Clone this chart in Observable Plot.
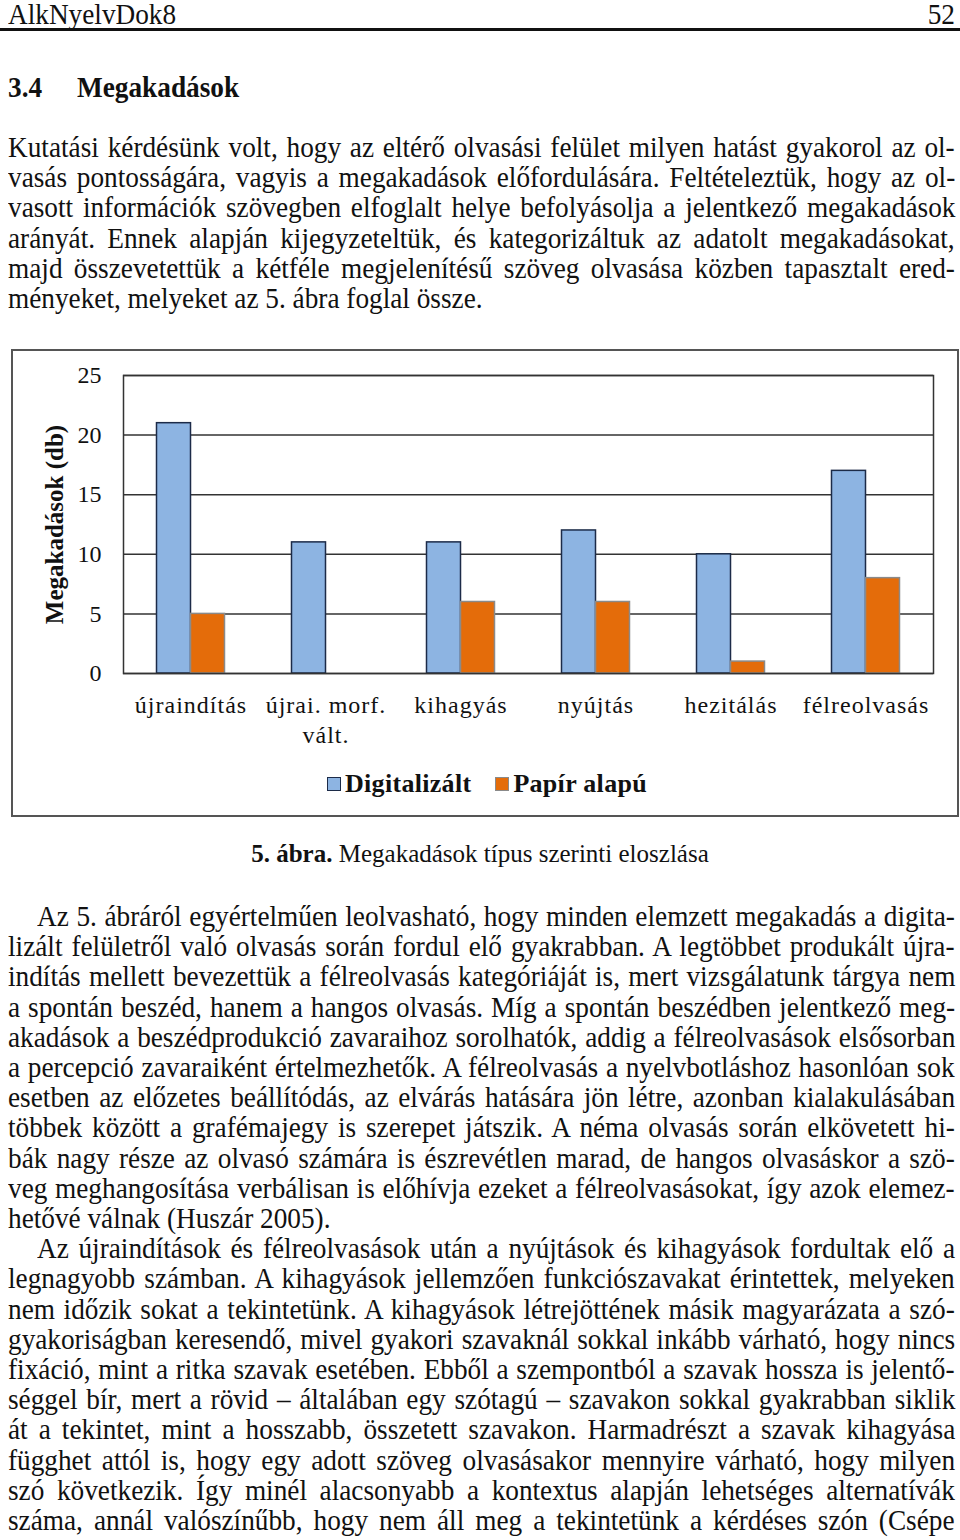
<!DOCTYPE html>
<html>
<head>
<meta charset="utf-8">
<script src="https://cdn.jsdelivr.net/npm/d3@7"></script>
<script src="https://cdn.jsdelivr.net/npm/@observablehq/plot@0.6"></script>
<style>
  html, body { margin: 0; padding: 0; background: #fff; }
  body { width: 960px; height: 1540px; position: relative; overflow: hidden; font-family: "Liberation Serif", "Times New Roman", serif; color: #111; }
  .ln { position: absolute; white-space: pre; font-size: 29px; line-height: 30px; height: 30px; transform-origin: 0 0; }
  .hdr { position: absolute; font-size: 29px; line-height: 30px; white-space: pre; transform-origin: 0 0; }
  #rule { position: absolute; left: 0; top: 28px; width: 960px; height: 3px; background: #111; }
  #box { position: absolute; left: 11px; top: 349px; width: 944px; height: 464px; border: 2px solid #555; }
  #chart { position: absolute; left: 0; top: 0; }
  #legend { position: absolute; left: 4px; right: 0; top: 418px; display: flex; justify-content: center; gap: 24px; font-weight: bold; font-size: 26px; letter-spacing: 0.3px; font-family: "Liberation Serif", serif; }
  #legend span.item { display: flex; align-items: center; gap: 4px; }
  #legend span.sw { width: 14px; height: 14px; display: inline-block; box-sizing: border-box; }
  #caption { position: absolute; left: 0; width: 960px; text-align: center; top: 839px; font-size: 25px; line-height: 30px; }
</style>
</head>
<body>
<div class="hdr" id="hdrL" style="left:8px; top:-1px;">AlkNyelvDok8</div>
<div class="hdr" id="hdrR" style="right:5px; top:-1px; transform-origin: 100% 0;">52</div>
<div id="rule"></div>
<div class="hdr" style="left:8px; top:72px; font-weight:bold;">3.4</div>
<div class="hdr" id="title" style="left:77px; top:72px; font-weight:bold;">Megakadások</div>

<div id="box">
  <div id="chart"></div>
  <div id="legend"></div>
</div>
<div id="caption"><b>5. ábra.</b> Megakadások típus szerinti eloszlása</div>
<div id="text"></div>

<script>
// ---- chart data ----
const categories = ["újraindítás", "újrai. morf.\nvált.", "kihagyás", "nyújtás", "hezitálás", "félreolvasás"];
const seriesNames = ["Digitalizált", "Papír alapú"];
const digitalizalt = [21, 11, 11, 12, 10, 17];
const papirAlapu = [5, 0, 6, 6, 1, 8];
const yTicks = [0, 5, 10, 15, 20, 25];
const yLabel = "Megakadások (db)";
const colors = ["#8DB4E2", "#E46C0A"];
const strokes = ["#1c2b48", "#8a8a8a"];

const rows = categories.flatMap((c, i) => [
  {cat: c, series: seriesNames[0], value: digitalizalt[i]},
  {cat: c, series: seriesNames[1], value: papirAlapu[i]}
]);

const marks = [
  Plot.gridY(yTicks, {stroke: "#333", strokeOpacity: 1, strokeWidth: 1.5}),
  Plot.barY(rows.filter(d => d.series === seriesNames[0]), {x: "cat", y: "value", fill: "series", stroke: strokes[0], strokeWidth: 1.5, insetLeft: 33.5, insetRight: 67.5}),
  Plot.barY(rows.filter(d => d.series === seriesNames[1]), {x: "cat", y: "value", fill: "series", stroke: strokes[1], strokeWidth: 1.5, insetLeft: 67.5, insetRight: 33.5}),
  Plot.frame({stroke: "#333", strokeWidth: 1.5}),
  Plot.text([yLabel], {frameAnchor: "left", textAnchor: "middle", rotate: -90, dx: -69, fontWeight: "bold", fontSize: 25, fill: "#111"})
];
const hasAxisMarks = typeof Plot.axisX === "function";
if (hasAxisMarks) {
  marks.push(Plot.axisX({tickSize: 0, tickPadding: 18, fontSize: 24, lineHeight: 1.25, label: null, fill: "#111"}));
  marks.push(Plot.axisY({ticks: yTicks, tickSize: 0, tickPadding: 22, fontSize: 24, label: null, fill: "#111"}));
}

const chart = Plot.plot({
  width: 944,
  height: 400,
  marginLeft: 110,
  marginRight: 24,
  marginTop: 24,
  marginBottom: 78,
  style: {fontFamily: "Liberation Serif, serif", fontSize: "24px", background: "transparent", color: "#111"},
  x: {domain: categories, padding: 0, label: null, tickSize: 0, tickPadding: 18, axis: hasAxisMarks ? null : "bottom"},
  y: {domain: [0, 25], ticks: yTicks, label: null, tickSize: 0, tickPadding: 22, axis: hasAxisMarks ? null : "left"},
  color: {domain: seriesNames, range: colors},
  marks
});
document.getElementById("chart").appendChild(chart);
d3.select(chart).selectAll('g[aria-label="x-axis tick label"] text, g[aria-label="x-axis"] text').style("letter-spacing", "1px");

// legend
const legend = document.getElementById("legend");
seriesNames.forEach((s, i) => {
  const item = document.createElement("span");
  item.className = "item";
  const sw = document.createElement("span");
  sw.className = "sw";
  sw.style.background = colors[i];
  sw.style.border = "1.5px solid " + strokes[i];
  item.appendChild(sw);
  item.appendChild(document.createTextNode(s));
  legend.appendChild(item);
});

// ---- body text ----
const para1 = [
  "Kutatási kérdésünk volt, hogy az eltérő olvasási felület milyen hatást gyakorol az ol-",
  "vasás pontosságára, vagyis a megakadások előfordulására. Feltételeztük, hogy az ol-",
  "vasott információk szövegben elfoglalt helye befolyásolja a jelentkező megakadások",
  "arányát. Ennek alapján kijegyzeteltük, és kategorizáltuk az adatolt megakadásokat,",
  "majd összevetettük a kétféle megjelenítésű szöveg olvasása közben tapasztalt ered-",
  "ményeket, melyeket az 5. ábra foglal össze."
];
const para2 = [
  "Az 5. ábráról egyértelműen leolvasható, hogy minden elemzett megakadás a digita-",
  "lizált felületről való olvasás során fordul elő gyakrabban. A legtöbbet produkált újra-",
  "indítás mellett bevezettük a félreolvasás kategóriáját is, mert vizsgálatunk tárgya nem",
  "a spontán beszéd, hanem a hangos olvasás. Míg a spontán beszédben jelentkező meg-",
  "akadások a beszédprodukció zavaraihoz sorolhatók, addig a félreolvasások elsősorban",
  "a percepció zavaraiként értelmezhetők. A félreolvasás a nyelvbotláshoz hasonlóan sok",
  "esetben az előzetes beállítódás, az elvárás hatására jön létre, azonban kialakulásában",
  "többek között a grafémajegy is szerepet játszik. A néma olvasás során elkövetett hi-",
  "bák nagy része az olvasó számára is észrevétlen marad, de hangos olvasáskor a szö-",
  "veg meghangosítása verbálisan is előhívja ezeket a félreolvasásokat, így azok elemez-",
  "hetővé válnak (Huszár 2005)."
];
const para3 = [
  "Az újraindítások és félreolvasások után a nyújtások és kihagyások fordultak elő a",
  "legnagyobb számban. A kihagyások jellemzően funkciószavakat érintettek, melyeken",
  "nem időzik sokat a tekintetünk. A kihagyások létrejöttének másik magyarázata a szó-",
  "gyakoriságban keresendő, mivel gyakori szavaknál sokkal inkább várható, hogy nincs",
  "fixáció, mint a ritka szavak esetében. Ebből a szempontból a szavak hossza is jelentő-",
  "séggel bír, mert a rövid – általában egy szótagú – szavakon sokkal gyakrabban siklik",
  "át a tekintet, mint a hosszabb, összetett szavakon. Harmadrészt a szavak kihagyása",
  "függhet attól is, hogy egy adott szöveg olvasásakor mennyire várható, hogy milyen",
  "szó következik. Így minél alacsonyabb a kontextus alapján lehetséges alternatívák",
  "száma, annál valószínűbb, hogy nem áll meg a tekintetünk a kérdéses szón (Csépe"
];

const SX = 0.94;         // horizontal condensation of the page font
const RIGHT = 955;
const LH = 30.2;
const textHost = document.getElementById("text");
function addPara(lines, firstTop, indent, justifyLast) {
  lines.forEach((t, i) => {
    const d = document.createElement("div");
    d.className = "ln";
    const left = (i === 0 && indent) ? 37 : 8;
    d.style.left = left + "px";
    d.style.top = (firstTop + i * LH) + "px";
    d.textContent = t;
    d.style.transform = "scaleX(" + SX + ")";
    textHost.appendChild(d);
    const isLast = i === lines.length - 1;
    if (!isLast || justifyLast) {
      const natural = d.offsetWidth;
      const target = (RIGHT - left) / SX;
      const spaces = (t.match(/ /g) || []).length;
      if (spaces > 0) d.style.wordSpacing = ((target - natural) / spaces) + "px";
    }
  });
}
addPara(para1, 132, false, false);
addPara(para2, 901, true, false);
addPara(para3, 901 + 11 * LH, true, true);

// condense headings
document.querySelectorAll(".hdr").forEach(h => { h.style.transform = "scaleX(" + SX + ")"; });
</script>
</body>
</html>
